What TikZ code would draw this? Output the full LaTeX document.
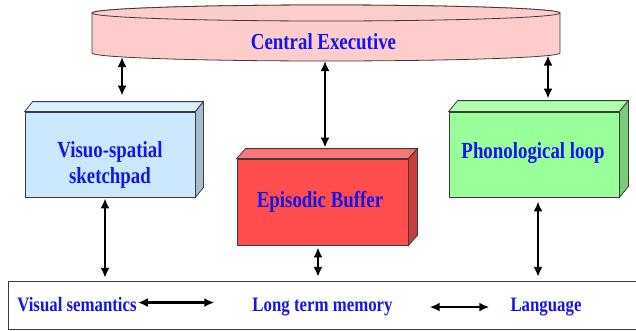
\documentclass[tikz,border=0pt]{standalone}
\usepackage{fontspec}
\setmainfont{Liberation Serif}
\usetikzlibrary{arrows.meta,calc}

\definecolor{edgegray}{HTML}{3C3C3C}
\definecolor{txtblue}{HTML}{1414F0}
\definecolor{cefill}{HTML}{FFCCCC}
\definecolor{vsfront}{HTML}{CCE8FF}
\definecolor{vstop}{HTML}{DCF0FF}
\definecolor{vsside}{HTML}{A6BCCF}
\definecolor{ebfront}{HTML}{FF4C4C}
\definecolor{ebtop}{HTML}{FF7474}
\definecolor{ebside}{HTML}{C83C3C}
\definecolor{plfront}{HTML}{99FF99}
\definecolor{pltop}{HTML}{AEFFAE}
\definecolor{plside}{HTML}{7ACC7A}

% top and right faces of a box whose front face is node #1
\newcommand\cuboidfaces[5]{%
  \draw[face, fill=#4] (#1.north west) -- ++(#2,-#3)
    -- ($(#1.north east)+(#2,-#3)$) -- (#1.north east) -- cycle;
  \draw[face, fill=#5] (#1.north east) -- ++(#2,-#3)
    -- ($(#1.south east)+(#2,-#3)$) -- (#1.south east) -- cycle;
}
% condensed bold serif lettering
\newcommand\narrowtext[1]{\scalebox{0.82}[1]{#1}}

\begin{document}
\begin{tikzpicture}[x=1pt, y=-1pt,
  face/.style={draw=edgegray, line width=0.8pt},
  frontbox/.style={face, minimum width=170pt, minimum height=85pt, inner sep=0pt},
  lbl/.style={text=txtblue, font=\bfseries\fontsize{23}{26}\selectfont, inner sep=0pt},
  ltmlbl/.style={text=txtblue, font=\bfseries\fontsize{20.5}{22}\selectfont, inner sep=0pt, anchor=base},
  dbl/.style={{Latex[length=10pt,width=9pt]}-{Latex[length=10pt,width=9pt]}, line width=2.4pt, black},
  thindbl/.style={{Latex[length=10pt,width=9pt]}-{Latex[length=10pt,width=9pt]}, line width=2.2pt, black},
  frameline/.style={draw=edgegray, line width=1.3pt}]

\useasboundingbox (0,0) rectangle (636,330);

% Central executive drum
\path[face, fill=cefill] (92,13) -- (92,53)
  arc[start angle=180, end angle=0, x radius=234, y radius=8]
  -- (560,13) arc[start angle=0, end angle=-180, x radius=234, y radius=8] -- cycle;
\draw[face, fill=cefill] (326,13) ellipse[x radius=234, y radius=8];
\node[lbl, anchor=base] (ce) at (323.5,49) {\narrowtext{Central Executive}};
\coordinate (ce-vs) at (122,57);
\coordinate (ce-eb) at (325,61);
\coordinate (ce-pl) at (548,55.5);

% Slave systems
\node[frontbox, fill=vsfront] (vs) at (110,154.5) {};
\cuboidfaces{vs}{8}{10}{vstop}{vsside}
\node[lbl, anchor=base] (vs-t1) at (110,157) {\narrowtext{Visuo-spatial}};
\node[lbl, anchor=base] (vs-t2) at (110,183) {\narrowtext{sketchpad}};

\node[frontbox, minimum width=171pt, minimum height=86pt, fill=ebfront] (eb) at (322.5,202) {};
\cuboidfaces{eb}{9}{10}{ebtop}{ebside}
\node[lbl, anchor=base] (eb-t) at (320,207) {\narrowtext{Episodic Buffer}};

\node[frontbox, fill=plfront] (pl) at (534,154.5) {};
\cuboidfaces{pl}{9}{11}{pltop}{plside}
\node[lbl, anchor=base] (pl-t) at (533,158) {\narrowtext{Phonological loop}};

% Long term memory frame (open to the right)
\node[minimum width=628pt, minimum height=47pt, inner sep=0pt] (ltmframe) at (323,305.5) {};
\draw[frameline] (ltmframe.north east) -- (ltmframe.north west)
  -- (ltmframe.south west) -- (ltmframe.south east);

\node[ltmlbl] (vsem) at (77,311) {\narrowtext{Visual semantics}};
\node[ltmlbl] (ltm) at (322.5,311) {\narrowtext{Long term memory}};
\node[ltmlbl] (lang) at (546,311) {\narrowtext{Language}};

% Executive links
\draw[dbl, shorten >=16pt] (ce-vs) -- (ce-vs |- vs.north);
\draw[dbl, shorten >=11pt] (ce-eb) -- (ce-eb |- eb.north);
\draw[dbl, shorten >=13pt] (ce-pl) -- (ce-pl |- pl.north);

% Links down to long term memory
\draw[dbl, shorten <=1pt, shorten >=4pt] ([xshift=-5pt]vs.south) -- ([xshift=-5pt]vs.south |- ltmframe.north);
\draw[dbl, shorten <=2pt, shorten >=5pt] ([xshift=-4.5pt]eb.south) -- ([xshift=-4.5pt]eb.south |- ltmframe.north);
\draw[dbl, shorten <=4pt, shorten >=5pt] ([xshift=4pt]pl.south) -- ([xshift=4pt]pl.south |- ltmframe.north);

% Links inside long term memory
\draw[thindbl, shorten <=1pt, shorten >=38pt] ([yshift=1.5pt]vsem.east) -- ([yshift=1.5pt]vsem.east -| ltm.west);
\draw[thindbl, shorten <=37pt, shorten >=21pt] ([yshift=-0.5pt]ltm.east) -- ([yshift=-0.5pt]ltm.east -| lang.west);
\end{tikzpicture}
\end{document}
